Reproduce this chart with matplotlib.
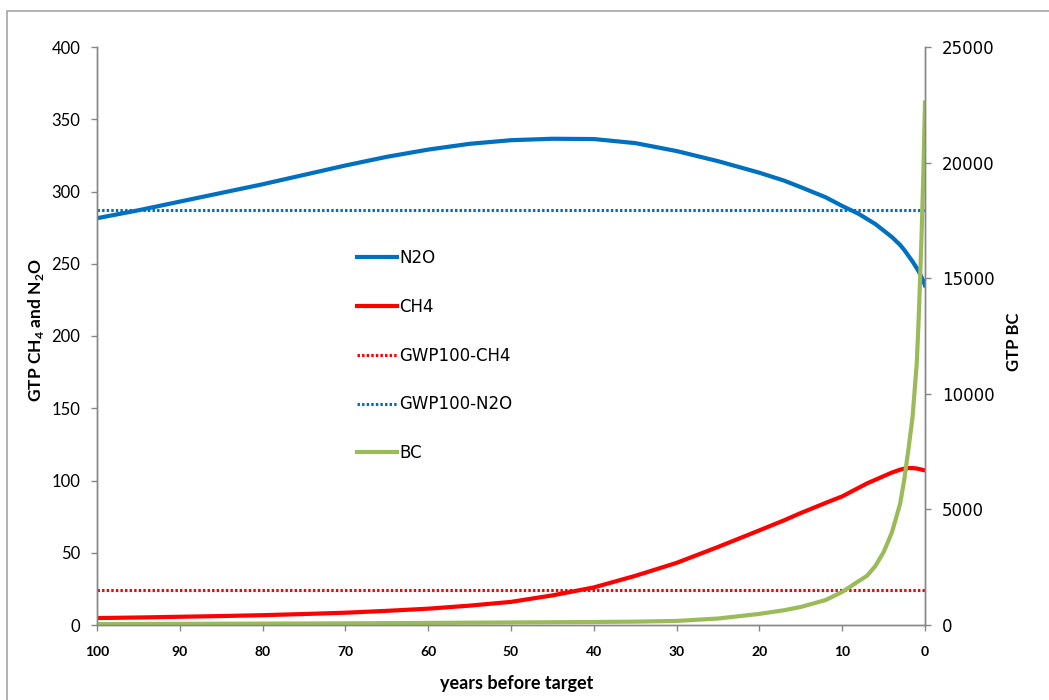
import matplotlib
matplotlib.use("Agg")
import matplotlib.pyplot as plt
from matplotlib.patches import Rectangle

plt.rcParams['font.family'] = ['Lato', 'DejaVu Sans']
plt.rcParams['mathtext.fontset'] = 'custom'
plt.rcParams['mathtext.bf'] = 'Lato:bold'
plt.rcParams['mathtext.rm'] = 'Lato'

# years before target
years = [100, 95, 90, 85, 80, 75, 70, 65, 60, 55, 50, 45, 40, 35, 30, 25, 20, 17, 15,
         12, 10, 8, 7, 6, 5, 4, 3, 2.5, 2, 1.5, 1, 0.8, 0.6, 0.4, 0.2, 0]

gtp_n2o = [281.5, 287, 293, 299, 305, 311.5, 318, 324, 329, 333, 335.5, 336.5, 336.3,
           333.5, 328, 321, 313, 307.5, 303, 296, 290, 284.5, 281, 277.5, 273, 268.5,
           263, 259.5, 255.5, 251.5, 247, 245, 243, 240.5, 238, 235]

gtp_ch4 = [4.8, 5.2, 5.7, 6.2, 6.8, 7.6, 8.5, 9.8, 11.3, 13.4, 16, 20.5, 26, 34, 43,
           54, 65.5, 72.5, 77.5, 84.5, 89, 95, 98, 100.5, 103, 105.5, 107.5, 108.2,
           108.6, 108.6, 108.3, 108, 107.8, 107.5, 107.2, 107]

gtp_bc = [40, 45, 50, 55, 60, 65, 72, 80, 90, 100, 110, 120, 130, 145, 175, 280, 480,
          640, 780, 1080, 1430, 1900, 2130, 2550, 3150, 4000, 5250, 6300, 7600, 9000,
          11300, 12900, 14900, 17000, 19500, 22600]

gwp100_ch4 = 24
gwp100_n2o = 287

left_ticks = [0, 50, 100, 150, 200, 250, 300, 350, 400]
right_ticks = [0, 5000, 10000, 15000, 20000, 25000]
x_ticks = [100, 90, 80, 70, 60, 50, 40, 30, 20, 10, 0]

blue = '#0070C0'
red = '#FF0000'
green = '#9BBB59'
axis_grey = '#868686'

fig = plt.figure(figsize=(10.49, 7.0), dpi=100)
fig.patches.append(Rectangle((7 / 1049, -0.05), 1.2, 1.05 - 11 / 700, transform=fig.transFigure,
                             fill=False, edgecolor='#a6a6a6', linewidth=1.2))

ax = fig.add_axes([97 / 1049, 1 - 625 / 700, 828 / 1049, 578 / 700])
ax2 = ax.twinx()

l1, = ax.plot(years, gtp_n2o, color=blue, lw=3.0, label='N2O')
l2, = ax.plot(years, gtp_ch4, color=red, lw=3.0, label='CH4')
l3, = ax.plot(years, [gwp100_ch4] * len(years), color=red, lw=2.2, dashes=(0.8, 0.7),
              label='GWP100-CH4')
l4, = ax.plot(years, [gwp100_n2o] * len(years), color=blue, lw=2.2, dashes=(0.8, 0.7),
              label='GWP100-N2O')
l5, = ax2.plot(years, gtp_bc, color=green, lw=3.0, label='BC')

ax.set_xlim(100, 0)
ax.set_ylim(0, 400)
ax2.set_ylim(0, 25000)
ax.set_xticks(x_ticks)
ax.set_yticks(left_ticks)
ax2.set_yticks(right_ticks)

for a in (ax, ax2):
    a.spines['top'].set_visible(False)
    for s in ('left', 'right', 'bottom'):
        a.spines[s].set_color(axis_grey)
        a.spines[s].set_linewidth(1.0)
    a.tick_params(color=axis_grey, length=4, width=1.0)

ax.tick_params(axis='y', labelsize=12, pad=8)
ax.tick_params(axis='x', labelsize=10, pad=11)
for t in ax.get_xticklabels():
    t.set_fontweight('bold')
ax2.tick_params(axis='y', labelsize=12, pad=8)
for t in ax2.get_yticklabels():
    t.set_fontfamily('DejaVu Sans')

ax.set_xlabel('years before target', fontsize=13, fontweight='bold')
ax.xaxis.set_label_coords(0.507, -0.087)
ax.set_ylabel(r'GTP CH$_\mathbf{4}$ and N$_\mathbf{2}$O', fontsize=12.5, fontweight='bold')
ax.yaxis.set_label_coords(-0.061, 0.51)
ax2.set_ylabel('GTP BC', fontsize=12, fontweight='bold')
ax2.yaxis.set_label_coords(1.098, 0.49)

leg = ax2.legend(handles=[l1, l2, l3, l4, l5], loc='upper left',
                 bbox_to_anchor=(357 / 1049, 1 - 249 / 700), bbox_transform=fig.transFigure,
                 frameon=False, borderpad=0, borderaxespad=0, handlelength=2.4,
                 handletextpad=0.15, labelspacing=1.85,
                 prop={'family': 'DejaVu Sans', 'size': 12})

fig.savefig('out.png', dpi=100)
